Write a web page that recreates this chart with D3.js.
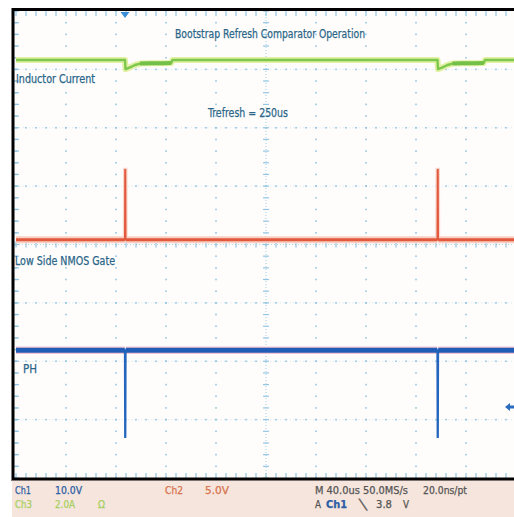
<!DOCTYPE html>
<html><head><meta charset="utf-8">
<script src="https://cdn.jsdelivr.net/npm/d3@7"></script>
<style>html,body{margin:0;padding:0;background:#fff;}svg{display:block;}</style>
</head><body>
<script>
// ---- data (times in microseconds, 40 us/div) ----
const timeDomain = [-87.2, 312.8];
const refreshTimes = [0, 250];

// Ch1 : PH node, 10 V/div
const phTime = [-87.2, -0.2, 0, 0.4, 0.6, 249.8, 250, 250.4, 250.6, 312.8];
const phVolt = [14.9, 14.9, 0, 0, 14.9, 14.9, 0, 0, 14.9, 14.9];

// Ch2 : Low side NMOS gate, 5 V/div
const gateTime = [-87.2, -0.2, 0, 0.4, 0.6, 249.8, 250, 250.4, 250.6, 312.8];
const gateVolt = [0, 0, 6.0, 6.0, 0, 0, 6.0, 6.0, 0, 0];

// Ch3 : Inductor current, 2 A/div
const indTime = [-87.2, 0, 0.4, 4, 8, 12, 20, 30, 37, 38, 250, 250.4, 254, 258, 262, 270, 280, 287, 288, 312.8];
const indAmp  = [0, 0, -0.31, -0.25, -0.17, -0.12, -0.11, -0.11, -0.10, 0, 0, -0.31, -0.25, -0.17, -0.12, -0.11, -0.11, -0.10, 0, 0];

// channel settings
const chScale  = {ch1: 10, ch2: 5, ch3: 2};          // units per division
const chOffset = {ch1: -3.30, ch2: 0.08, ch3: 3.16};  // divisions

// labels
const titleText = "Bootstrap Refresh Comparator Operation";
const traceLabels = ["Inductor Current", "Trefresh = 250us", "Low Side NMOS Gate", "PH"];
const statusRow1 = ["Ch1", "10.0V", "Ch2", "5.0V", "M 40.0us 50.0MS/s", "20.0ns/pt"];
const statusRow2 = ["Ch3", "2.0A", "\u03A9", "A", "Ch1", "\u2572", "3.8", "V"];

// ---- drawing ----
const W = 514, H = 517;
const svg = d3.select("body").append("svg").attr("width", W).attr("height", H);

const X0 = 16, X1 = 516, Y0 = 11, Y1 = 478;
const x = d3.scaleLinear().domain(timeDomain).range([X0, X1]);
const xd = d3.scaleLinear().domain([-5, 5]).range([X0, X1]);
const yd = d3.scaleLinear().domain([-4, 4]).range([Y1, Y0]);

svg.append("rect").attr("x", 14).attr("y", 11).attr("width", 500).attr("height", 467).attr("fill", "#fffdfc");

const defs = svg.append("defs");
defs.append("clipPath").attr("id", "clip").append("rect")
  .attr("x", 14).attr("y", 11).attr("width", 500).attr("height", 467);

const g = svg.append("g").attr("clip-path", "url(#clip)");
const gridColor = "#94c6e3";

// grid dots
const gg = g.append("g").attr("fill", gridColor);
const dx = (X1 - X0) / 50, dy = (Y1 - Y0) / 40;
for (let i = -5; i <= 5; i++) {
  if (i === 0) continue;
  for (let k = 0; k <= 40; k++) {
    gg.append("rect").attr("x", xd(i) - 0.8).attr("y", Y0 + k * dy - 0.8).attr("width", 1.6).attr("height", 1.6);
  }
}
for (let j = -3; j <= 3; j++) {
  if (j === 0) continue;
  for (let k = 0; k <= 50; k++) {
    gg.append("rect").attr("x", X0 + k * dx - 0.8).attr("y", yd(j) - 0.8).attr("width", 1.6).attr("height", 1.6);
  }
  g.append("line").attr("x1", X0).attr("x2", X1).attr("y1", yd(j)).attr("y2", yd(j))
    .attr("stroke", gridColor).attr("stroke-width", 1).attr("stroke-dasharray", "1,2.3").attr("opacity", 0.4);
}
// center axes with ticks
const ga = g.append("g").attr("stroke", gridColor).attr("stroke-width", 1.2);
ga.append("line").attr("x1", X0).attr("x2", X1).attr("y1", yd(0)).attr("y2", yd(0)).attr("stroke-dasharray", "1,2").attr("opacity", 0.7);
ga.append("line").attr("x1", xd(0)).attr("x2", xd(0)).attr("y1", Y0).attr("y2", Y1).attr("stroke-dasharray", "1,2").attr("opacity", 0.7);
for (let k = 0; k <= 50; k++) {
  const xx = X0 + k * dx;
  ga.append("line").attr("x1", xx).attr("x2", xx).attr("y1", yd(0) - 3).attr("y2", yd(0) + 3);
  ga.append("line").attr("x1", xx).attr("x2", xx).attr("y1", Y0).attr("y2", Y0 + 5);
  ga.append("line").attr("x1", xx).attr("x2", xx).attr("y1", Y1 - 5).attr("y2", Y1);
}
for (let k = 0; k <= 40; k++) {
  const yy = Y0 + k * dy;
  ga.append("line").attr("y1", yy).attr("y2", yy).attr("x1", xd(0) - 3).attr("x2", xd(0) + 3);
  ga.append("line").attr("y1", yy).attr("y2", yy).attr("x1", 14).attr("x2", 19);
}

// traces
function yFor(ch) { return v => yd(v / chScale[ch] + chOffset[ch]); }
const line = (ch) => d3.line().x(d => x(d[0])).y(d => yFor(ch)(d[1]));

const indData = indTime.map((t, i) => [t, indAmp[i]]);
const gateData = gateTime.map((t, i) => [t, gateVolt[i]]);
const phData = phTime.map((t, i) => [t, phVolt[i]]);

// horizontal segments (consecutive points at equal level with some duration)
function flatSegs(data) {
  const out = [];
  for (let i = 1; i < data.length; i++) {
    if (data[i][1] === data[i - 1][1] && data[i][0] - data[i - 1][0] > 1) out.push([data[i - 1], data[i]]);
  }
  return out;
}

// Ch3 green
g.append("path").datum(indData).attr("d", line("ch3")).attr("fill", "none")
  .attr("stroke", "#e2f0a4").attr("stroke-width", 6).attr("stroke-linejoin", "round");
g.append("path").datum(indData).attr("d", line("ch3")).attr("fill", "none")
  .attr("stroke", "#7cc84c").attr("stroke-width", 2.4).attr("stroke-linejoin", "round");
refreshTimes.forEach(t0 => {
  const seg = indData.filter(d => d[0] >= t0 + 10 && d[0] <= t0 + 37);
  g.append("path").datum(seg).attr("d", line("ch3")).attr("fill", "none")
    .attr("stroke", "#72c048").attr("stroke-width", 4);
});

// Ch2 red
g.append("path").datum(gateData).attr("d", line("ch2")).attr("fill", "none")
  .attr("stroke", "#f9d6cb").attr("stroke-width", 4);
flatSegs(gateData).forEach(s => {
  g.append("path").datum(s).attr("d", line("ch2")).attr("fill", "none")
    .attr("stroke", "#f8cfc2").attr("stroke-width", 7);
});
g.append("path").datum(gateData).attr("d", line("ch2")).attr("fill", "none")
  .attr("stroke", "#e2583c").attr("stroke-width", 1.5);
flatSegs(gateData).forEach(s => {
  g.append("path").datum(s).attr("d", line("ch2")).attr("fill", "none")
    .attr("stroke", "#e2583c").attr("stroke-width", 3);
});

// Ch1 blue
flatSegs(phData).forEach(s => {
  g.append("path").datum(s).attr("d", line("ch1")).attr("fill", "none")
    .attr("stroke", "#f4c6d4").attr("stroke-width", 7.5);
});
g.append("path").datum(phData).attr("d", line("ch1")).attr("fill", "none")
  .attr("stroke", "#2466bd").attr("stroke-width", 1.8);
flatSegs(phData).forEach(s => {
  if (s[0][1] === 0) return;
  g.append("path").datum(s).attr("d", line("ch1")).attr("fill", "none")
    .attr("stroke", "#1f5db6").attr("stroke-width", 5);
});

// trigger marker
svg.append("path").attr("d", `M${x(0) - 4.5},12 L${x(0) + 4.5},12 L${x(0)},18 Z`).attr("fill", "#3a8fd6");

// ground arrow at right
svg.append("path").attr("d", "M505,407 L510,403 L510,405.5 L514,405.5 L514,408.5 L510,408.5 L510,411 Z").attr("fill", "#2a6cc0");

// text
const labelColor = "#2a6688";
const font = "'DejaVu Sans Condensed','Liberation Sans Narrow','Liberation Sans',sans-serif";
function txt(s, xx, yy, len, size, color, weight) {
  svg.append("text").attr("x", xx).attr("y", yy).text(s)
    .attr("font-family", font).attr("font-size", size).attr("fill", color)
    .attr("font-weight", weight || "normal")
    .attr("stroke", color).attr("stroke-width", 0.25)
    .attr("textLength", len).attr("lengthAdjust", "spacingAndGlyphs");
}
txt(titleText, 175, 38, 190, 12.5, labelColor);
txt(traceLabels[0], 16, 83, 79, 12.5, labelColor);
txt(traceLabels[1], 208, 117, 80, 12.5, labelColor);
txt(traceLabels[2], 15, 265, 100, 12.5, labelColor);
txt(traceLabels[3], 23, 373, 14, 12.5, labelColor);

// border
svg.append("line").attr("x1", 12).attr("x2", 514).attr("y1", 9.5).attr("y2", 9.5).attr("stroke", "#000").attr("stroke-width", 3);
svg.append("line").attr("x1", 13).attr("x2", 13).attr("y1", 8).attr("y2", 481).attr("stroke", "#000").attr("stroke-width", 3);

// status bar
svg.append("rect").attr("x", 12).attr("y", 480).attr("width", 502).attr("height", 37).attr("fill", "#f5e5dc");
svg.append("line").attr("x1", 12).attr("x2", 514).attr("y1", 479).attr("y2", 479).attr("stroke", "#000").attr("stroke-width", 3);

const cBlue = "#2d5ea4", cRed = "#d8744f", cGreen = "#a6d061", cGray = "#555";
txt(statusRow1[0], 15, 494, 16, 10.5, cBlue);
txt(statusRow1[1], 55, 494, 27, 10.5, cBlue);
txt(statusRow1[2], 165, 494, 18, 10.5, cRed);
txt(statusRow1[3], 205, 494, 24, 10.5, cRed);
txt(statusRow1[4], 315, 494, 93, 10.5, cGray);
txt(statusRow1[5], 423, 494, 44, 10.5, cGray);
txt(statusRow2[0], 15, 508, 17, 10.5, cGreen);
txt(statusRow2[1], 55, 508, 20, 10.5, cGreen);
txt(statusRow2[2], 98, 508, 7, 10.5, cGreen);
txt(statusRow2[3], 315, 508, 6, 10.5, cGray);
txt(statusRow2[4], 326, 508, 21, 10.5, cBlue, "bold");
txt(statusRow2[5], 359, 508, 8, 10, cGray);
txt(statusRow2[6], 376, 508, 16, 10.5, cGray);
txt(statusRow2[7], 403, 508, 6, 10.5, cGray);
</script>
</body></html>
